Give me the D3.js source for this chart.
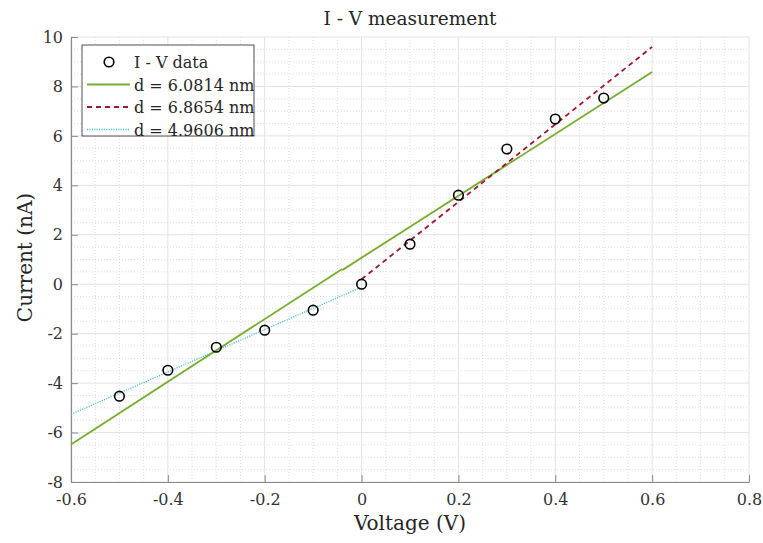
<!DOCTYPE html>
<html>
<head>
<meta charset="utf-8">
<script src="https://cdn.jsdelivr.net/npm/d3@7"></script>
<style>
  body { margin: 0; background: #fff; }
</style>
</head>
<body>
<svg id="chart" width="763" height="543"></svg>
<script>
// measured I-V points
var voltage = [-0.5, -0.4, -0.3, -0.2, -0.1, 0, 0.1, 0.2, 0.3, 0.4, 0.5];
var current = [-4.53, -3.48, -2.55, -1.86, -1.05, 0, 1.62, 3.6, 5.47, 6.68, 7.53];

// fitted lines (end points)
var fitGreenA = [[-0.6, -6.48], [-0.04, 0.62]];
var fitGreenB = [[-0.04, 0.57], [0.6, 8.58]];
var fitRed = [[0, 0.2], [0.6, 9.6]];
var fitCyan = [[-0.6, -5.26], [0, -0.12]];

var legendLabels = ["I - V data", "d = 6.0814 nm", "d = 6.8654 nm", "d = 4.9606 nm"];
var xTicks = [-0.6, -0.4, -0.2, 0, 0.2, 0.4, 0.6, 0.8];
var yTicks = [-8, -6, -4, -2, 0, 2, 4, 6, 8, 10];

var serif = '"DejaVu Serif", serif';

var svg = d3.select("#chart");
var margin = {left: 71, right: 14, top: 37, bottom: 61};
var width = 763 - margin.left - margin.right;
var height = 543 - margin.top - margin.bottom;

var x = d3.scaleLinear().domain([-0.6, 0.8]).range([0, width]);
var y = d3.scaleLinear().domain([-8, 10]).range([height, 0]);

var g = svg.append("g").attr("transform", "translate(" + margin.left + "," + margin.top + ")");

// minor grid (dotted)
var xMinor = d3.range(-0.6, 0.8001, 0.05).filter(function(v) { return Math.abs(Math.round(v * 5) - v * 5) > 0.01; });
var yMinor = d3.range(-8, 10.001, 0.5).filter(function(v) { return Math.abs(v % 2) > 0.01; });

g.append("g").selectAll("line").data(xMinor).join("line")
    .attr("x1", d => x(d)).attr("x2", d => x(d)).attr("y1", 0).attr("y2", height)
    .attr("stroke", "#d4d4d4").attr("stroke-width", 0.8).attr("stroke-dasharray", "1,2");
g.append("g").selectAll("line").data(yMinor).join("line")
    .attr("y1", d => y(d)).attr("y2", d => y(d)).attr("x1", 0).attr("x2", width)
    .attr("stroke", "#d4d4d4").attr("stroke-width", 0.8).attr("stroke-dasharray", "1,2");

// major grid
g.append("g").selectAll("line").data(xTicks).join("line")
    .attr("x1", d => x(d)).attr("x2", d => x(d)).attr("y1", 0).attr("y2", height)
    .attr("stroke", "#e3e3e3").attr("stroke-width", 1);
g.append("g").selectAll("line").data(yTicks).join("line")
    .attr("y1", d => y(d)).attr("y2", d => y(d)).attr("x1", 0).attr("x2", width)
    .attr("stroke", "#e3e3e3").attr("stroke-width", 1);

// axes (ticks pointing inward)
var xAxis = g.append("g").attr("transform", "translate(0," + height + ")")
    .call(d3.axisBottom(x).tickValues(xTicks).tickSize(-7).tickSizeOuter(0).tickPadding(11)
        .tickFormat(d => d === 0 ? "0" : d3.format(".1f")(d).replace("−", "-")));
var yAxis = g.append("g")
    .call(d3.axisLeft(y).tickValues(yTicks).tickSize(-7).tickSizeOuter(0).tickPadding(10)
        .tickFormat(d => String(d)));

[xAxis, yAxis].forEach(function(ax) {
    ax.attr("font-family", null).attr("font-size", null);
    ax.select(".domain").attr("stroke", "#8a8a8a").attr("stroke-width", 1.2);
    ax.selectAll(".tick line").attr("stroke", "#8a8a8a").attr("stroke-width", 1);
    ax.selectAll(".tick text").style("font-family", serif).style("font-size", "16px").attr("fill", "#333");
});
xAxis.selectAll(".tick text").attr("dy", "0.75em");
yAxis.selectAll(".tick text").attr("dx", "2");

// fit lines
var line = d3.line().x(d => x(d[0])).y(d => y(d[1]));
g.append("path").datum(fitCyan).attr("d", line).attr("fill", "none")
    .attr("stroke", "#4DBEEE").attr("stroke-width", 1.3).attr("stroke-dasharray", "1.2,1.2");
g.append("path").datum(fitGreenA).attr("d", line).attr("fill", "none")
    .attr("stroke", "#77AC30").attr("stroke-width", 1.8);
g.append("path").datum(fitGreenB).attr("d", line).attr("fill", "none")
    .attr("stroke", "#77AC30").attr("stroke-width", 1.8);
g.append("path").datum(fitRed).attr("d", line).attr("fill", "none")
    .attr("stroke", "#A2142F").attr("stroke-width", 1.8).attr("stroke-dasharray", "5,4");

// data markers
g.append("g").selectAll("circle").data(voltage).join("circle")
    .attr("cx", d => x(d)).attr("cy", (d, i) => y(current[i])).attr("r", 4.8)
    .attr("fill", "none").attr("stroke", "#000").attr("stroke-width", 1.6);

// title and labels
svg.append("text").attr("x", margin.left + width / 2).attr("y", 25).attr("text-anchor", "middle")
    .style("font-family", serif).style("font-size", "18.5px").attr("fill", "#262626").text("I - V measurement");
svg.append("text").attr("x", margin.left + width / 2).attr("y", 530).attr("text-anchor", "middle")
    .style("font-family", serif).style("font-size", "20px").attr("fill", "#262626").text("Voltage (V)");
svg.append("text").attr("transform", "translate(32," + (margin.top + height / 2 - 2) + ") rotate(-90)")
    .attr("text-anchor", "middle").style("font-family", serif).style("font-size", "20px")
    .attr("fill", "#262626").text("Current (nA)");

// legend
var lg = svg.append("g").attr("transform", "translate(82,45)");
lg.append("rect").attr("width", 172).attr("height", 91).attr("fill", "#fff")
    .attr("stroke", "#262626").attr("stroke-width", 0.8);
var rowY = [17, 39.5, 62, 84.5];
lg.append("circle").attr("cx", 27).attr("cy", rowY[0]).attr("r", 4.8)
    .attr("fill", "none").attr("stroke", "#000").attr("stroke-width", 1.6);
lg.append("line").attr("x1", 5).attr("x2", 48).attr("y1", rowY[1]).attr("y2", rowY[1])
    .attr("stroke", "#77AC30").attr("stroke-width", 1.8);
lg.append("line").attr("x1", 5).attr("x2", 48).attr("y1", rowY[2]).attr("y2", rowY[2])
    .attr("stroke", "#A2142F").attr("stroke-width", 1.8).attr("stroke-dasharray", "5,4");
lg.append("line").attr("x1", 5).attr("x2", 48).attr("y1", rowY[3]).attr("y2", rowY[3])
    .attr("stroke", "#4DBEEE").attr("stroke-width", 1.3).attr("stroke-dasharray", "1.2,1.2");
lg.selectAll("text.lab").data(legendLabels).join("text").attr("class", "lab")
    .attr("x", 52).attr("y", (d, i) => rowY[i] + 6).style("font-family", serif).style("font-size", "16px")
    .attr("fill", "#262626").text(d => d);
</script>
</body>
</html>
